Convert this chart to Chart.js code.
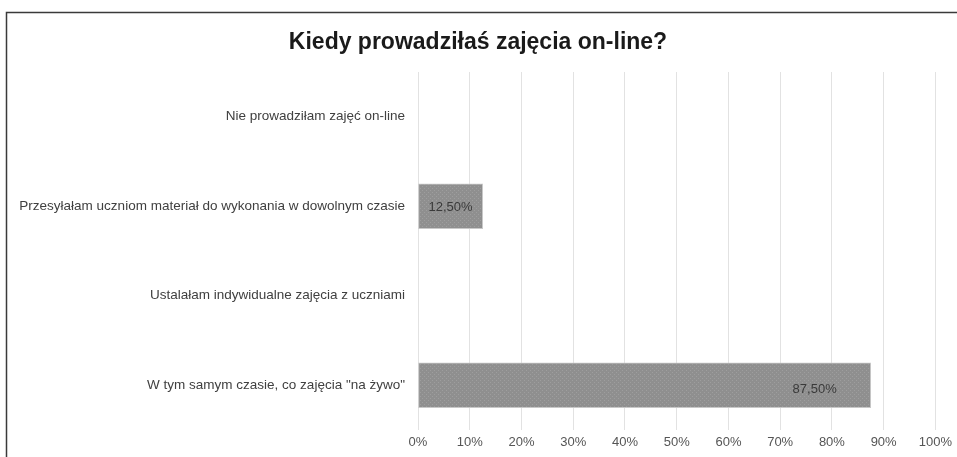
<!DOCTYPE html>
<html>
<head>
<meta charset="utf-8">
<script src="https://cdn.jsdelivr.net/npm/chart.js@4"></script>
<style>
  html, body { margin: 0; padding: 0; background: #fff; }
  #wrap { width: 957px; height: 457px; position: relative; }
</style>
</head>
<body>
<div id="wrap"><canvas id="chart" width="957" height="457"></canvas></div>
<script>
const chartTitle = 'Kiedy prowadziłaś zajęcia on-line?';
const categories = [
    'Nie prowadziłam zajęć on-line',
    'Przesyłałam uczniom materiał do wykonania w dowolnym czasie',
    'Ustalałam indywidualne zajęcia z uczniami',
    'W tym samym czasie, co zajęcia "na żywo"'
];
const values = [0, 12.5, 0, 87.5];
const valueLabels = ['', '12,50%', '', '87,50%'];
const tickValues = [0, 10, 20, 30, 40, 50, 60, 70, 80, 90, 100];

const FONT = '"Liberation Sans", Arial, sans-serif';

// dotted grey fill like the original bars
function makePattern() {
    const c = document.createElement('canvas');
    c.width = 4; c.height = 4;
    const g = c.getContext('2d');
    g.fillStyle = '#8f8f8f';
    g.fillRect(0, 0, 4, 4);
    g.fillStyle = '#9e9e9e';
    g.fillRect(0, 0, 1, 1);
    g.fillRect(2, 2, 1, 1);
    return g.createPattern(c, 'repeat');
}

// white background, frame lines and the title centred over the full width
const frame = {
    id: 'frame',
    beforeDraw(chart) {
        const ctx = chart.ctx;
        ctx.save();
        ctx.fillStyle = '#fff';
        ctx.fillRect(0, 0, chart.width, chart.height);
        ctx.strokeStyle = '#3a3a3a';
        ctx.lineWidth = 1.5;
        ctx.beginPath();
        ctx.moveTo(6.5, chart.height + 5);
        ctx.lineTo(6.5, 12.5);
        ctx.lineTo(chart.width + 5, 12.5);
        ctx.stroke();
        ctx.fillStyle = '#1a1a1a';
        ctx.font = 'bold 23px ' + FONT;
        ctx.textAlign = 'center';
        ctx.textBaseline = 'middle';
        ctx.fillText(chartTitle, 478, 43);
        ctx.restore();
    }
};

const barLabels = {
    id: 'barLabels',
    afterDatasetsDraw(chart) {
        const ctx = chart.ctx;
        const meta = chart.getDatasetMeta(0);
        ctx.save();
        ctx.font = '13px ' + FONT;
        ctx.fillStyle = '#3a3a3a';
        ctx.textBaseline = 'middle';
        meta.data.forEach((bar, i) => {
            const txt = valueLabels[i];
            if (!txt) return;
            const w = bar.x - bar.base;
            if (w > 200) {
                ctx.textAlign = 'right';
                ctx.fillText(txt, bar.x - 34, bar.y + 4);
            } else {
                ctx.textAlign = 'center';
                ctx.fillText(txt, bar.base + w / 2, bar.y + 1);
            }
        });
        ctx.restore();
    }
};

const ctx = document.getElementById('chart').getContext('2d');
new Chart(ctx, {
    type: 'bar',
    data: {
        labels: categories,
        datasets: [{
            data: values,
            backgroundColor: makePattern(),
            borderColor: '#c8c8c8',
            borderWidth: 1,
            borderSkipped: false,
            barThickness: 45
        }]
    },
    options: {
        indexAxis: 'y',
        responsive: false,
        animation: false,
        layout: { padding: { top: 72, right: 21, bottom: 0, left: 0 } },
        plugins: {
            legend: { display: false },
            tooltip: { enabled: false },
            title: { display: false }
        },
        scales: {
            x: {
                min: 0,
                max: 100,
                afterBuildTicks(scale) {
                    scale.ticks = tickValues.map(v => ({ value: v }));
                },
                afterFit(scale) { scale.height = 27; },
                grid: { color: '#e2e2e2', lineWidth: 1, drawTicks: false },
                border: { display: false },
                ticks: {
                    padding: 5,
                    color: '#555',
                    font: { family: FONT, size: 13 },
                    callback: v => v + '%'
                }
            },
            y: {
                afterFit(scale) { scale.width = 418; },
                grid: { display: false },
                border: { display: false },
                ticks: {
                    padding: 5,
                    color: '#404040',
                    font: { family: FONT, size: 13.5 }
                }
            }
        }
    },
    plugins: [frame, barLabels]
});
</script>
</body>
</html>
